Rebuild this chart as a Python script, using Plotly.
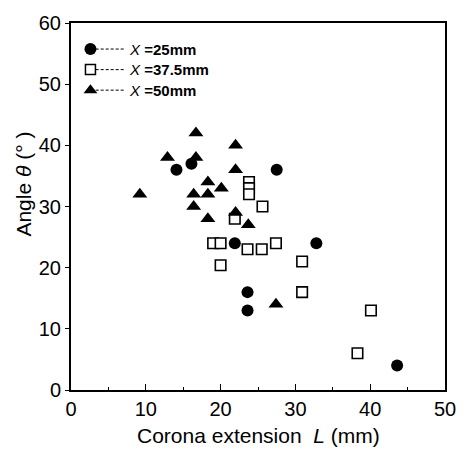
import plotly.graph_objects as go

# Data
L_25 = [14.1, 16.1, 27.5, 21.9, 32.8, 23.6, 23.6, 43.6]
T_25 = [36, 37, 36, 24, 24, 16, 13, 4]

L_375 = [23.8, 23.8, 23.8, 25.6, 21.9, 19.0, 20.0, 23.6, 25.5, 27.4, 20.0, 30.9, 30.9, 40.1, 38.3]
T_375 = [34, 33, 32, 30, 28, 24, 24, 23, 23, 24, 20.4, 21, 16, 13, 6]

L_50 = [16.7, 22.0, 12.9, 16.7, 22.0, 18.3, 20.1, 16.4, 18.3, 9.2, 16.4, 18.3, 22.0, 23.7, 27.4]
T_50 = [42, 40, 38, 38, 36, 34, 33, 32, 32, 32, 30, 28, 29, 27, 14]

series_names = ["<i>X</i> <b>=25mm</b>", "<i>X</i> <b>=37.5mm</b>", "<i>X</i> <b>=50mm</b>"]
x_ticks = [0, 10, 20, 30, 40, 50]
y_ticks = [0, 10, 20, 30, 40, 50, 60]

FONT = "Liberation Sans, Arial, sans-serif"

fig = go.Figure()

styles = [
    dict(symbol="circle", size=12, color="black", line=dict(width=0)),
    dict(symbol="square", size=10.5, color="white", line=dict(color="black", width=1.6)),
    dict(symbol="triangle-up", size=13, color="black", line=dict(width=0)),
]
data = [(L_25, T_25), (L_375, T_375), (L_50, T_50)]

for (xs, ys), st in zip(data, styles):
    fig.add_trace(go.Scatter(x=xs, y=ys, mode="markers", marker=st,
                             showlegend=False, cliponaxis=False))

# Manual legend (marker + dotted line + text) on an overlay axis
leg_y = [0.929, 0.873, 0.817]
leg_styles = [
    dict(symbol="circle", size=12, color="black", line=dict(width=0)),
    dict(symbol="square", size=10, color="white", line=dict(color="black", width=1.5)),
    dict(symbol="triangle-up", size=12, color="black", line=dict(width=0)),
]
for yy, st, name in zip(leg_y, leg_styles, series_names):
    fig.add_trace(go.Scatter(x=[0.066, 0.143], y=[yy, yy], mode="lines",
                             line=dict(color="black", width=1, dash="3px,2px"),
                             xaxis="x2", yaxis="y2", showlegend=False))
    fig.add_trace(go.Scatter(x=[0.052], y=[yy], mode="markers", marker=st,
                             xaxis="x2", yaxis="y2", showlegend=False))
    fig.add_annotation(x=0.149, y=yy, xref="x2", yref="y2", text=name,
                       showarrow=False, xanchor="left", yanchor="middle",
                       font=dict(family=FONT, size=15, color="black"))

fig.update_layout(
    width=468, height=450,
    margin=dict(l=71, r=20, t=15, b=60),
    paper_bgcolor="white", plot_bgcolor="white",
    font=dict(family=FONT, color="black"),
    xaxis=dict(range=[0, 50], tickvals=x_ticks, ticks="inside", ticklen=6,
               tickwidth=1.2, tickcolor="black",
               minor=dict(dtick=5, ticks="inside", ticklen=3, tickcolor="black"),
               showline=True, linecolor="black", linewidth=2, mirror=True,
               showgrid=False, zeroline=False,
               tickfont=dict(family=FONT, size=20, color="black")),
    yaxis=dict(range=[0, 60], tickvals=y_ticks, ticks="outside", ticklen=4,
               tickwidth=1.2, tickcolor="black",
               showline=True, linecolor="black", linewidth=2, mirror=True,
               showgrid=False, zeroline=False,
               tickfont=dict(family=FONT, size=20, color="black")),
    xaxis2=dict(range=[0, 1], overlaying="x", visible=False, anchor="y2"),
    yaxis2=dict(range=[0, 1], overlaying="y", visible=False, anchor="x2"),
)

fig.add_annotation(x=0.5, y=-0.125, xref="paper", yref="paper",
                   text="Corona extension  <i>L</i> (mm)", showarrow=False,
                   xanchor="center", yanchor="middle",
                   font=dict(family=FONT, size=21, color="black"))
fig.add_annotation(x=-0.128, y=0.56, xref="paper", yref="paper",
                   text="Angle <i>θ</i> (° )", showarrow=False, textangle=-90,
                   xanchor="center", yanchor="middle",
                   font=dict(family=FONT, size=21, color="black"))

fig.write_html("out.html")
